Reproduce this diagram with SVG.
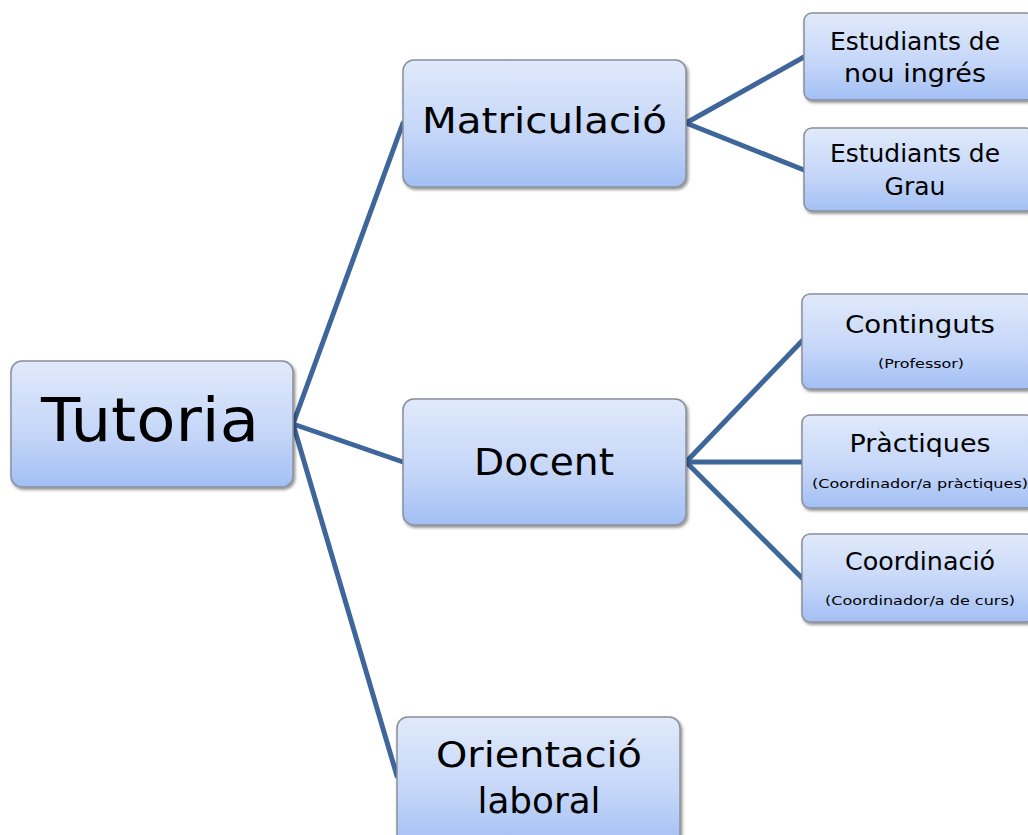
<svg xmlns="http://www.w3.org/2000/svg" width="1028" height="835" viewBox="0 0 1028 835">
<style>
.box{fill:url(#g);stroke:#8a8f99;stroke-width:1.5;filter:url(#sh)}
.t{font-family:"DejaVu Sans","Liberation Sans",sans-serif;fill:#000;text-anchor:middle}
.c{stroke:#3f669a;stroke-width:5;fill:none;stroke-linecap:round}
</style>
<defs>
<linearGradient id="g" x1="0" y1="0" x2="0" y2="1">
<stop offset="0" stop-color="#e1eafb"/>
<stop offset="0.6" stop-color="#c3d5f8"/>
<stop offset="1" stop-color="#a2bff4"/>
</linearGradient>
<filter id="sh" x="-10%" y="-10%" width="125%" height="130%">
<feDropShadow dx="1.5" dy="2" stdDeviation="1.5" flood-color="#000" flood-opacity="0.45"/>
</filter>
</defs>
<rect width="1028" height="835" fill="#fff"/>
<g id="connectors">
<line class="c" x1="293" y1="424" x2="403" y2="123"/>
<line class="c" x1="293" y1="424" x2="403" y2="462"/>
<line class="c" x1="293" y1="424" x2="397" y2="776"/>
<line class="c" x1="686" y1="123" x2="804" y2="57"/>
<line class="c" x1="686" y1="123" x2="804" y2="170"/>
<line class="c" x1="686" y1="462" x2="802" y2="341"/>
<line class="c" x1="686" y1="462" x2="802" y2="462"/>
<line class="c" x1="686" y1="462" x2="802" y2="578"/>
</g>
<g id="tutoria">
<rect class="box" x="11" y="361" width="282" height="126" rx="11"/>
<text class="t" x="150" y="441" font-size="60" textLength="218" lengthAdjust="spacingAndGlyphs">Tutoria</text>
</g>
<g id="matriculacio">
<rect class="box" x="403" y="60" width="283" height="127" rx="11"/>
<text class="t" x="544.5" y="133" font-size="36" textLength="245" lengthAdjust="spacingAndGlyphs">Matriculació</text>
</g>
<g id="docent">
<rect class="box" x="403" y="399" width="283" height="126" rx="11"/>
<text class="t" x="544" y="475" font-size="37" textLength="140" lengthAdjust="spacingAndGlyphs">Docent</text>
</g>
<g id="orientacio">
<rect class="box" x="397" y="717" width="283" height="130" rx="11"/>
<text class="t" x="539" y="767" font-size="36" textLength="206" lengthAdjust="spacingAndGlyphs">Orientació</text>
<text class="t" x="539" y="813" font-size="36" textLength="123" lengthAdjust="spacingAndGlyphs">laboral</text>
</g>
<g id="estudiants-nou">
<rect class="box" x="804" y="13" width="230" height="87" rx="8"/>
<text class="t" x="915" y="50" font-size="25" textLength="170" lengthAdjust="spacingAndGlyphs">Estudiants de</text>
<text class="t" x="915" y="82" font-size="25" textLength="142" lengthAdjust="spacingAndGlyphs">nou ingrés</text>
</g>
<g id="estudiants-grau">
<rect class="box" x="804" y="128" width="230" height="83" rx="8"/>
<text class="t" x="915" y="162" font-size="25" textLength="170" lengthAdjust="spacingAndGlyphs">Estudiants de</text>
<text class="t" x="915" y="195" font-size="25">Grau</text>
</g>
<g id="continguts">
<rect class="box" x="802" y="294" width="232" height="95" rx="8"/>
<text class="t" x="920" y="333" font-size="25" textLength="150" lengthAdjust="spacingAndGlyphs">Continguts</text>
<text class="t" x="921" y="368" font-size="12.5" textLength="86" lengthAdjust="spacingAndGlyphs">(Professor)</text>
</g>
<g id="practiques">
<rect class="box" x="802" y="415" width="232" height="93" rx="8"/>
<text class="t" x="920" y="452" font-size="25" textLength="141" lengthAdjust="spacingAndGlyphs">Pràctiques</text>
<text class="t" x="920" y="488" font-size="12.5" textLength="216" lengthAdjust="spacingAndGlyphs">(Coordinador/a pràctiques)</text>
</g>
<g id="coordinacio">
<rect class="box" x="802" y="534" width="232" height="88" rx="8"/>
<text class="t" x="920" y="570" font-size="25" textLength="150" lengthAdjust="spacingAndGlyphs">Coordinació</text>
<text class="t" x="920" y="605" font-size="12.5" textLength="190" lengthAdjust="spacingAndGlyphs">(Coordinador/a de curs)</text>
</g>
</svg>
